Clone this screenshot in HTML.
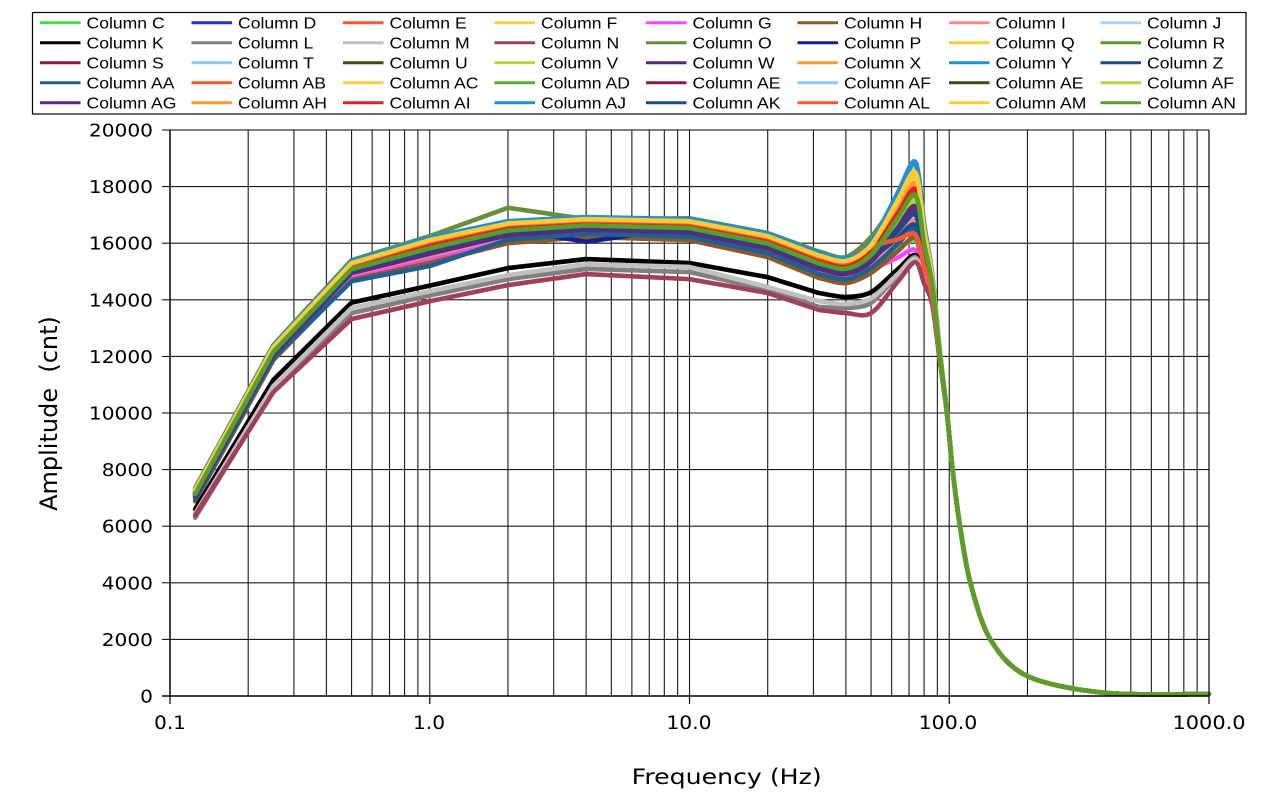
<!DOCTYPE html>
<html>
<head>
<meta charset="utf-8">
<style>
html,body{margin:0;padding:0;background:#fff;}
svg{display:block;}
.lg{font-family:"Liberation Sans",Arial,sans-serif;font-size:16px;fill:#000;}
.tk{font-family:"DejaVu Sans",Verdana,sans-serif;fill:#000;}
</style>
</head>
<body>
<svg id="chart" width="1270" height="793" viewBox="0 0 1270 793" xmlns="http://www.w3.org/2000/svg">
<rect x="0" y="0" width="1270" height="793" fill="#fff"/>
<g id="grid"></g>
<g id="series" fill="none" stroke-linejoin="round" stroke-linecap="round"></g>
<g id="axes" stroke="#000" fill="none">
  <line x1="170" y1="130" x2="170" y2="697" stroke-width="1.5"/>
  <line x1="162" y1="696" x2="1209.5" y2="696" stroke-width="1.5"/>
  <line x1="170" y1="130" x2="1209" y2="130" stroke-width="1"/>
  <line x1="1209" y1="130" x2="1209" y2="704" stroke-width="1.2"/>
  <line x1="170" y1="696" x2="170" y2="704" stroke-width="1.2"/>
  <line x1="429.75" y1="696" x2="429.75" y2="704" stroke-width="1.2"/>
  <line x1="689.5" y1="696" x2="689.5" y2="704" stroke-width="1.2"/>
  <line x1="949.25" y1="696" x2="949.25" y2="704" stroke-width="1.2"/>
  <line x1="162" y1="639.4" x2="170" y2="639.4"/>
  <line x1="162" y1="582.8" x2="170" y2="582.8"/>
  <line x1="162" y1="526.2" x2="170" y2="526.2"/>
  <line x1="162" y1="469.6" x2="170" y2="469.6"/>
  <line x1="162" y1="413" x2="170" y2="413"/>
  <line x1="162" y1="356.4" x2="170" y2="356.4"/>
  <line x1="162" y1="299.8" x2="170" y2="299.8"/>
  <line x1="162" y1="243.2" x2="170" y2="243.2"/>
  <line x1="162" y1="186.6" x2="170" y2="186.6"/>
  <line x1="162" y1="130" x2="170" y2="130"/>
</g>

<!-- Y tick labels -->
<g class="tk" font-size="18" text-anchor="end">
  <text transform="translate(153,702.5) scale(1.12,1)">0</text>
  <text transform="translate(153,645.9) scale(1.12,1)">2000</text>
  <text transform="translate(153,589.3) scale(1.12,1)">4000</text>
  <text transform="translate(153,532.7) scale(1.12,1)">6000</text>
  <text transform="translate(153,476.1) scale(1.12,1)">8000</text>
  <text transform="translate(153,419.5) scale(1.12,1)">10000</text>
  <text transform="translate(153,362.9) scale(1.12,1)">12000</text>
  <text transform="translate(153,306.3) scale(1.12,1)">14000</text>
  <text transform="translate(153,249.7) scale(1.12,1)">16000</text>
  <text transform="translate(153,193.1) scale(1.12,1)">18000</text>
  <text transform="translate(153,136.5) scale(1.12,1)">20000</text>
</g>
<!-- X tick labels -->
<g class="tk" font-size="19" text-anchor="middle">
  <text transform="translate(170,729) scale(1.05,1)">0.1</text>
  <text transform="translate(429,729) scale(1.06,1)">1.0</text>
  <text transform="translate(689,729) scale(1.07,1)">10.0</text>
  <text transform="translate(948,729) scale(1.08,1)">100.0</text>
  <text transform="translate(1209,729) scale(1.10,1)">1000.0</text>
</g>
<!-- Axis titles -->
<text class="tk" font-size="21" x="726.7" y="784" text-anchor="middle" textLength="190" lengthAdjust="spacingAndGlyphs">Frequency (Hz)</text>
<text class="tk" font-size="24" text-anchor="middle" transform="translate(57,413.5) rotate(-90)">Amplitude&#160; (cnt)</text>

<!-- Legend -->
<rect x="32.5" y="12.5" width="1213.5" height="101.5" fill="#fff" stroke="#000" stroke-width="1.2"/>
<g id="legsw" stroke-width="3"></g>
<g class="lg">
  <text transform="translate(86.5,28.3) scale(1.1,1)">Column C</text>
  <text transform="translate(238,28.3) scale(1.1,1)">Column D</text>
  <text transform="translate(389.5,28.3) scale(1.1,1)">Column E</text>
  <text transform="translate(541,28.3) scale(1.1,1)">Column F</text>
  <text transform="translate(692.5,28.3) scale(1.1,1)">Column G</text>
  <text transform="translate(844,28.3) scale(1.1,1)">Column H</text>
  <text transform="translate(995.5,28.3) scale(1.1,1)">Column I</text>
  <text transform="translate(1147,28.3) scale(1.1,1)">Column J</text>

  <text transform="translate(86.5,48.3) scale(1.1,1)">Column K</text>
  <text transform="translate(238,48.3) scale(1.1,1)">Column L</text>
  <text transform="translate(389.5,48.3) scale(1.1,1)">Column M</text>
  <text transform="translate(541,48.3) scale(1.1,1)">Column N</text>
  <text transform="translate(692.5,48.3) scale(1.1,1)">Column O</text>
  <text transform="translate(844,48.3) scale(1.1,1)">Column P</text>
  <text transform="translate(995.5,48.3) scale(1.1,1)">Column Q</text>
  <text transform="translate(1147,48.3) scale(1.1,1)">Column R</text>

  <text transform="translate(86.5,68.3) scale(1.1,1)">Column S</text>
  <text transform="translate(238,68.3) scale(1.1,1)">Column T</text>
  <text transform="translate(389.5,68.3) scale(1.1,1)">Column U</text>
  <text transform="translate(541,68.3) scale(1.1,1)">Column V</text>
  <text transform="translate(692.5,68.3) scale(1.1,1)">Column W</text>
  <text transform="translate(844,68.3) scale(1.1,1)">Column X</text>
  <text transform="translate(995.5,68.3) scale(1.1,1)">Column Y</text>
  <text transform="translate(1147,68.3) scale(1.1,1)">Column Z</text>

  <text transform="translate(86.5,88.3) scale(1.1,1)">Column AA</text>
  <text transform="translate(238,88.3) scale(1.1,1)">Column AB</text>
  <text transform="translate(389.5,88.3) scale(1.1,1)">Column AC</text>
  <text transform="translate(541,88.3) scale(1.1,1)">Column AD</text>
  <text transform="translate(692.5,88.3) scale(1.1,1)">Column AE</text>
  <text transform="translate(844,88.3) scale(1.1,1)">Column AF</text>
  <text transform="translate(995.5,88.3) scale(1.1,1)">Column AE</text>
  <text transform="translate(1147,88.3) scale(1.1,1)">Column AF</text>

  <text transform="translate(86.5,108.3) scale(1.1,1)">Column AG</text>
  <text transform="translate(238,108.3) scale(1.1,1)">Column AH</text>
  <text transform="translate(389.5,108.3) scale(1.1,1)">Column AI</text>
  <text transform="translate(541,108.3) scale(1.1,1)">Column AJ</text>
  <text transform="translate(692.5,108.3) scale(1.1,1)">Column AK</text>
  <text transform="translate(844,108.3) scale(1.1,1)">Column AL</text>
  <text transform="translate(995.5,108.3) scale(1.1,1)">Column AM</text>
  <text transform="translate(1147,108.3) scale(1.1,1)">Column AN</text>
</g>
</svg>

<script>
(function(){
  var NS="http://www.w3.org/2000/svg";
  function X(f){return 170+(Math.log10(f)+1)*259.75;}
  function Y(v){return 696-v*0.0283;}
  function el(tag,attrs,parent){var e=document.createElementNS(NS,tag);for(var k in attrs)e.setAttribute(k,attrs[k]);parent.appendChild(e);return e;}

  // grid
  var g=document.getElementById('grid');
  var decs=[0.1,1,10,100];
  decs.forEach(function(d){
    for(var k=1;k<=9;k++){
      var f=k*d; if(f<=0.1+1e-9) continue;
      var x=X(f);
      el('line',{x1:x,y1:130,x2:x,y2:696,stroke:'#1a1a1a','stroke-width':1.1},g);
    }
  });
  for(var v=2000;v<20000;v+=2000){
    var y=Y(v);
    el('line',{x1:170,y1:y,x2:1209,y2:y,stroke:'#1a1a1a','stroke-width':1.1},g);
  }

  // series
  var F=[0.125,0.25,0.5,1,2,4,10,20,31.5,40,50,63,74,80,86,92,98,103,110,120.6,144,200,400,1000];
  var hi=[7350,12400,15400,16250,16820,16960,16890,16380,15700,15510,16100];
  var lo=[6880,11870,14700,15300,16000,16220,16110,15510,14770,14590,14950];

  function tail(base,peak){
    var a=base.slice();
    var dp=18870-peak;
    a.push(base[10]+(peak-base[10])*0.6);
    a.push(peak, 16700-dp*0.6, 14900-dp*0.3, 12200-dp*0.1, 10000, 8000, 6000, 4000, 2000, 700, 110, 70);
    return a;
  }
  function mix(t){var a=[];for(var i=0;i<hi.length;i++)a.push(lo[i]+t*(hi[i]-lo[i]));return a;}

  var S=[
    ['#44DD44',0.25,16110],
    ['#2233DD',0.70,17100],
    ['#FF5533',0.75,16470],
    ['#FFCC44',0.85,18590],
    ['#FF44FF',0.10,15760],
    ['#8B5A2B',0.00,16200],
    ['#FF8888',0.30,16800],
    ['#A8D4FF',0.45,17400],
    ['#000000','K',15580],
    ['#808080','L',15510],
    ['#C0C0C0','M',15450],
    ['#A0405A','N',15330],
    ['#6B8E3A','O',18340],
    ['#1A1F8C','P',17600],
    ['#FFCC33',0.80,18400],
    ['#5A9E2A',0.50,17900],
    ['#8B1A3A',0.55,17900],
    ['#88CCFF',0.40,17300],
    ['#3D4A1A',0.50,17700],
    ['#B8D43A',0.60,17500],
    ['#5A2A7A',0.35,17200],
    ['#FF9933',0.65,18000],
    ['#2090D8',0.95,18870],
    ['#1A4A8A',0.45,16640],
    ['#1F6090','AA',16500],
    ['#FF5A2A',0.90,17900],
    ['#FFCC44',0.75,18200],
    ['#5AAA3A',0.50,17600],
    ['#8B1A4A',0.60,18000],
    ['#88CCFF',0.40,17300],
    ['#3D4A1A',0.55,17800],
    ['#B8D43A',0.60,17500],
    ['#5A2A80',0.35,17300],
    ['#FF9933',0.70,18100],
    ['#DD2222',0.65,17900],
    ['#2090D8',0.92,18800],
    ['#1A4A8A',0.50,17000],
    ['#FF5533',0.80,16300],
    ['#FFCC33',0.85,18500],
    ['#5A9E2A',0.55,17700]
  ];
  var special={
    K:[6600,11170,13900,14500,15120,15440,15300,14800,14240,14100,14270],
    M:[6450,10950,13710,14300,14870,15260,15160,14450,13950,13850,14050],
    L:[6300,10800,13530,14150,14730,15090,14980,14350,13750,13710,13890],
    N:[6380,10740,13320,13950,14520,14910,14730,14240,13640,13530,13530]
  };

  var STRAIGHT=8; // segments before index 8 are straight
  function pathFor(vals){
    var p=[];for(var i=0;i<F.length;i++)p.push([X(F[i]),Y(vals[i])]);
    var d='M'+p[0][0].toFixed(2)+','+p[0][1].toFixed(2);
    var T=6.5;
    for(var i=0;i<p.length-1;i++){
      var p1=p[i],p2=p[i+1];
      if(i<STRAIGHT){
        d+=' L'+p2[0].toFixed(2)+','+p2[1].toFixed(2);
        continue;
      }
      var p0=p[i-1]||p[i],p3=p[i+2]||p[i+1];
      var c1x=p1[0]+(p2[0]-p0[0])/T,c1y=p1[1]+(p2[1]-p0[1])/T;
      if(i===STRAIGHT){c1x=p1[0]+(p2[0]-p1[0])/3;c1y=p1[1]+(p2[1]-p1[1])/3;}
      var c2x=p2[0]-(p3[0]-p1[0])/T,c2y=p2[1]-(p3[1]-p1[1])/T;
      d+=' C'+c1x.toFixed(2)+','+c1y.toFixed(2)+' '+c2x.toFixed(2)+','+c2y.toFixed(2)+' '+p2[0].toFixed(2)+','+p2[1].toFixed(2);
    }
    return d;
  }

  var sg=document.getElementById('series');
  S.forEach(function(s){
    var base;
    if(typeof s[1]==='number'){base=mix(s[1]);}
    else if(special[s[1]]){base=special[s[1]].slice();}
    else if(s[1]==='O'){base=mix(1.0);base[4]=17250;base[5]=16850;base[6]=16880;base[7]=16360;base[9]=15510;base[10]=16220;}
    else if(s[1]==='P'){base=mix(0.6);base[5]=16050;}
    else if(s[1]==='AA'){base=mix(0.15);base[2]-=150;base[3]-=250;}
    var vals=tail(base,s[2]);
    el('path',{d:pathFor(vals),stroke:s[0],'stroke-width':4.6},sg);
  });

  // legend swatches
  var lg=document.getElementById('legsw');
  S.forEach(function(s,idx){
    var row=Math.floor(idx/8),col=idx%8;
    var x1=40+151.5*col,y=22.7+20*row;
    el('line',{x1:x1,y1:y,x2:x1+40.5,y2:y,stroke:s[0]},lg);
  });
})();
</script>
</body>
</html>
